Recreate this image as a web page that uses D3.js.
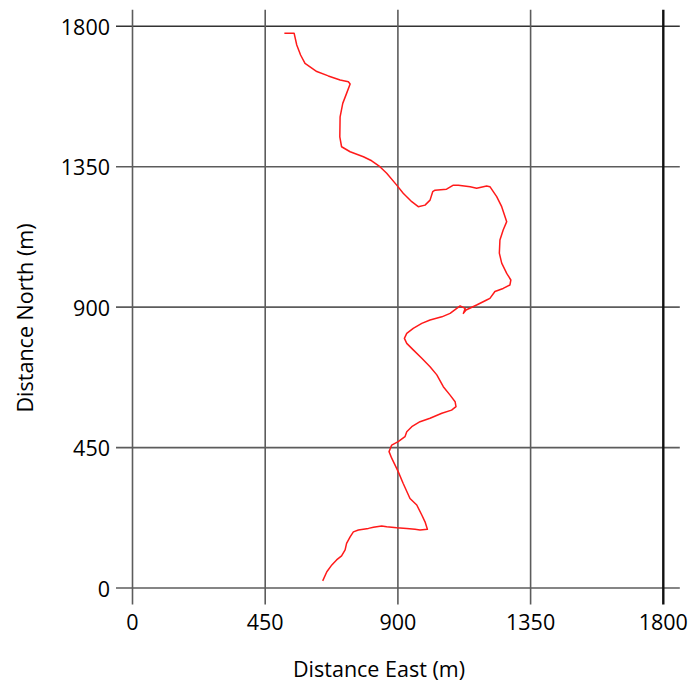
<!DOCTYPE html>
<html>
<head>
<meta charset="utf-8">
<script src="https://cdn.jsdelivr.net/npm/d3@7/dist/d3.min.js"></script>
<style>
  html, body { margin: 0; padding: 0; background: #fff; }
  svg { display: block; }
  text { font-family: "Open Sans", sans-serif; fill: #000; }
</style>
</head>
<body>
<svg id="chart" width="689" height="681"></svg>
<script>
// Track position relative to the start point, metres east and north
const eastM = [
  645, 659, 676, 692, 709, 721, 726, 738, 749, 766, 800, 817, 845, 862, 896, 930,
  958, 975, 1000, 992, 981, 964, 941, 918, 901, 879, 870, 879, 901, 924, 930, 947,
  975, 1009, 1049, 1082, 1097, 1094, 1077, 1054, 1032, 1009, 981, 952, 930, 922,
  930, 952, 981, 1009, 1049, 1077, 1111, 1128, 1122, 1131, 1167, 1201, 1212, 1229,
  1257, 1280, 1283, 1269, 1252, 1244, 1246, 1257, 1269, 1252, 1235, 1212, 1201,
  1167, 1145, 1105, 1088, 1065, 1026, 1018, 1009, 992, 969, 947, 918, 896, 862,
  839, 811, 783, 738, 709, 703, 704, 713, 726, 738, 732, 704, 664, 625, 585, 570,
  557, 548, 515
];
const northM = [
  23, 52, 74, 90, 103, 122, 143, 164, 180, 186, 191, 195, 199, 196, 193, 191,
  188, 186, 188, 212, 234, 266, 287, 335, 373, 416, 437, 458, 469, 485, 501, 517,
  533, 544, 560, 570, 581, 597, 618, 645, 683, 709, 736, 763, 784, 800,
  816, 832, 848, 859, 869, 880, 904, 896, 880, 891, 907, 923, 928, 950,
  960, 971, 987, 1008, 1041, 1073, 1115, 1147, 1174, 1222, 1254, 1286, 1288,
  1281, 1286, 1291, 1291, 1278, 1275, 1270, 1243, 1227, 1222, 1238, 1265, 1291, 1329,
  1350, 1369, 1382, 1398, 1414, 1446, 1510, 1553, 1585, 1615, 1622, 1628, 1641, 1655, 1681, 1708,
  1740, 1778, 1778
];
const xTicks = [0, 450, 900, 1350, 1800];
const yTicks = [0, 450, 900, 1350, 1800];
const xTitle = "Distance East (m)";
const yTitle = "Distance North (m)";

const track = eastM.map((e, i) => ({ e, n: northM[i] }));

const svg = d3.select("#chart");
const plot = { left: 132.5, right: 663.3, top: 26.3, bottom: 588 };
const ext = 16.5; // gridlines run a little past the plot frame

const x = d3.scaleLinear().domain([0, 1800]).range([plot.left, plot.right]);
const y = d3.scaleLinear().domain([0, 1800]).range([plot.bottom, plot.top]);

const grid = svg.append("g");

// horizontal gridlines
grid.selectAll("line.h").data(yTicks).join("line")
  .attr("class", "h")
  .attr("x1", plot.left - ext).attr("x2", plot.right + ext)
  .attr("y1", d => y(d)).attr("y2", d => y(d))
  .attr("stroke", d => d === 1800 ? "#333" : "#5c5c5c")
  .attr("stroke-width", 1.6);

// vertical gridlines
grid.selectAll("line.v").data(xTicks).join("line")
  .attr("class", "v")
  .attr("y1", plot.top - ext).attr("y2", plot.bottom + ext)
  .attr("x1", d => x(d)).attr("x2", d => x(d))
  .attr("stroke", d => d === 1800 ? "#111" : "#5c5c5c")
  .attr("stroke-width", d => d === 1800 ? 2.4 : 1.6);

// tick labels
svg.append("g").selectAll("text").data(yTicks).join("text")
  .attr("x", 110).attr("y", d => y(d))
  .attr("text-anchor", "end").attr("dominant-baseline", "central")
  .attr("font-size", 21.5)
  .text(d => d);

svg.append("g").selectAll("text").data(xTicks).join("text")
  .attr("x", d => x(d)).attr("y", 621)
  .attr("text-anchor", "middle").attr("dominant-baseline", "central")
  .attr("font-size", 21.5)
  .text(d => d);

// axis titles
svg.append("text")
  .attr("x", 379).attr("y", 668)
  .attr("text-anchor", "middle").attr("dominant-baseline", "central")
  .attr("font-size", 21.5)
  .text(xTitle);

svg.append("text")
  .attr("transform", "translate(24,318) rotate(-90)")
  .attr("text-anchor", "middle").attr("dominant-baseline", "central")
  .attr("font-size", 21.5)
  .text(yTitle);

// track
const line = d3.line().x(d => x(d.e)).y(d => y(d.n));
svg.append("path")
  .datum(track)
  .attr("d", line)
  .attr("fill", "none")
  .attr("stroke", "#ff1a1a")
  .attr("stroke-width", 1.5)
  .attr("stroke-linejoin", "round");
</script>
</body>
</html>
